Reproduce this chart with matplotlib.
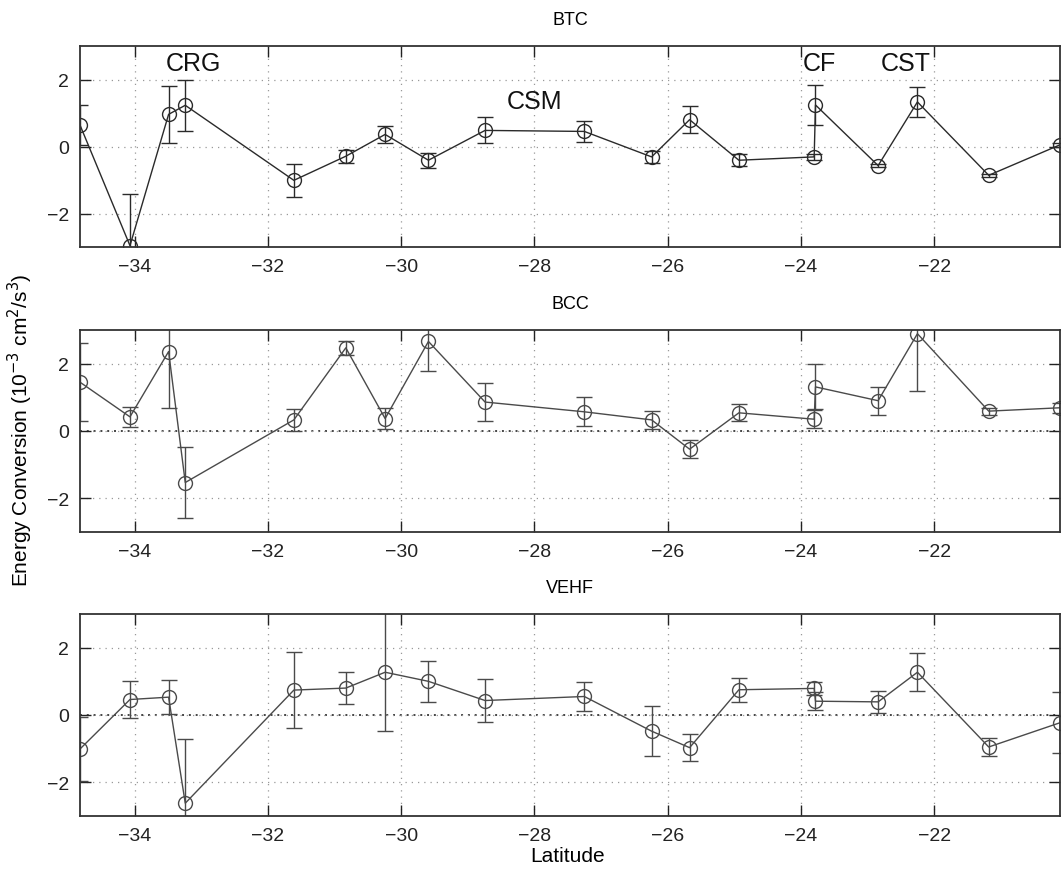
import matplotlib
matplotlib.use("Agg")
import matplotlib.pyplot as plt
import numpy as np

plt.rcParams['font.family'] = ['Liberation Sans', 'DejaVu Sans']

latitude = [-34.82, -34.07, -33.49, -33.24, -31.61, -30.83, -30.24, -29.59, -28.74,
            -27.25, -26.24, -25.67, -24.93, -23.80, -23.78, -22.84, -22.25, -21.18, -20.11]

btc = [0.64, -2.96, 0.96, 1.23, -1.01, -0.29, 0.36, -0.41, 0.48,
       0.45, -0.31, 0.80, -0.41, -0.31, 1.24, -0.57, 1.33, -0.86, 0.05]
btc_err = [0.60, 1.54, 0.86, 0.76, 0.50, 0.20, 0.26, 0.23, 0.39,
           0.32, 0.17, 0.40, 0.18, 0.08, 0.60, 0.05, 0.45, 0.05, 0.05]

bcc = [1.45, 0.42, 2.36, -1.53, 0.33, 2.47, 0.37, 2.66, 0.86,
       0.57, 0.33, -0.54, 0.54, 0.35, 1.31, 0.90, 2.89, 0.59, 0.69]
bcc_err = [1.15, 0.30, 1.67, 1.05, 0.33, 0.20, 0.30, 0.89, 0.56,
           0.43, 0.26, 0.27, 0.25, 0.27, 0.67, 0.42, 1.71, 0.10, 0.15]

vehf = [-1.01, 0.46, 0.53, -2.62, 0.74, 0.80, 1.27, 1.00, 0.43,
        0.55, -0.48, -0.97, 0.75, 0.79, 0.41, 0.39, 1.27, -0.95, -0.23]
vehf_err = [0.95, 0.56, 0.50, 1.92, 1.12, 0.48, 1.75, 0.60, 0.63,
            0.42, 0.74, 0.41, 0.36, 0.20, 0.27, 0.32, 0.57, 0.27, 0.90]

titles = ["BTC", "BCC", "VEHF"]
series = [btc, bcc, vehf]
errors = [btc_err, bcc_err, vehf_err]
line_colors = ["#2a2a2a", "#4a4a4a", "#4a4a4a"]

annot_labels = ["CRG", "CSM", "CF", "CST"]
annot_x = [-33.12, -28.0, -23.72, -22.43]
annot_y = [2.5, 1.37, 2.5, 2.5]

xticks = [-34, -32, -30, -28, -26, -24, -22]
yticks = [-2, 0, 2]

W, H = 1063, 870
fig = plt.figure(figsize=(W / 100, H / 100), dpi=100)

axes_px = [(47, 248), (331, 533), (615, 817)]
left_px, right_px = 80, 1060

for i, (top, bot) in enumerate(axes_px):
    ax = fig.add_axes([left_px / W, 1 - bot / H, (right_px - left_px) / W, (bot - top) / H])
    ax.errorbar(latitude, series[i], yerr=errors[i], color=line_colors[i], lw=1.0,
                marker='o', markersize=10, markerfacecolor='none',
                markeredgecolor=line_colors[i], markeredgewidth=1.0,
                ecolor=line_colors[i], elinewidth=1.0, capsize=6, capthick=1.0)
    ax.set_xlim(latitude[0], latitude[-1])
    ax.set_ylim(-3, 3)
    ax.set_xticks(xticks)
    ax.set_yticks(yticks)
    ax.set_xticklabels([f"\u2212{abs(t)}" for t in xticks])
    ax.set_yticklabels([("\u2212" + str(abs(t))) if t < 0 else str(t) for t in yticks])
    ax.grid(True, linestyle=(0, (1, 4)), color="#999999", linewidth=0.9)
    if i > 0:
        ax.axhline(0, linestyle=(0, (1, 2.5)), color="#444444", linewidth=1.4, zorder=1)
    ax.tick_params(direction='in', length=8, width=1.0, top=True, right=True,
                   labelsize=14, pad=8, colors="#222222")
    for s in ax.spines.values():
        s.set_linewidth(1.3)
        s.set_color("#333333")
    ax.set_title(titles[i], fontsize=13, pad=16)
    if i == 0:
        for lab, xx, yy in zip(annot_labels, annot_x, annot_y):
            ax.text(xx, yy, lab, fontsize=18, ha='center', va='center', color="#111111")

fig.text(20 / W, 1 - 430 / H, r"Energy Conversion (10$^{-3}$ cm$^2$/s$^3$)",
         rotation=90, ha='center', va='center', fontsize=15)
fig.text(568 / W, 1 - 857 / H, "Latitude", ha='center', va='center', fontsize=15)

fig.savefig("out.png", dpi=100)
